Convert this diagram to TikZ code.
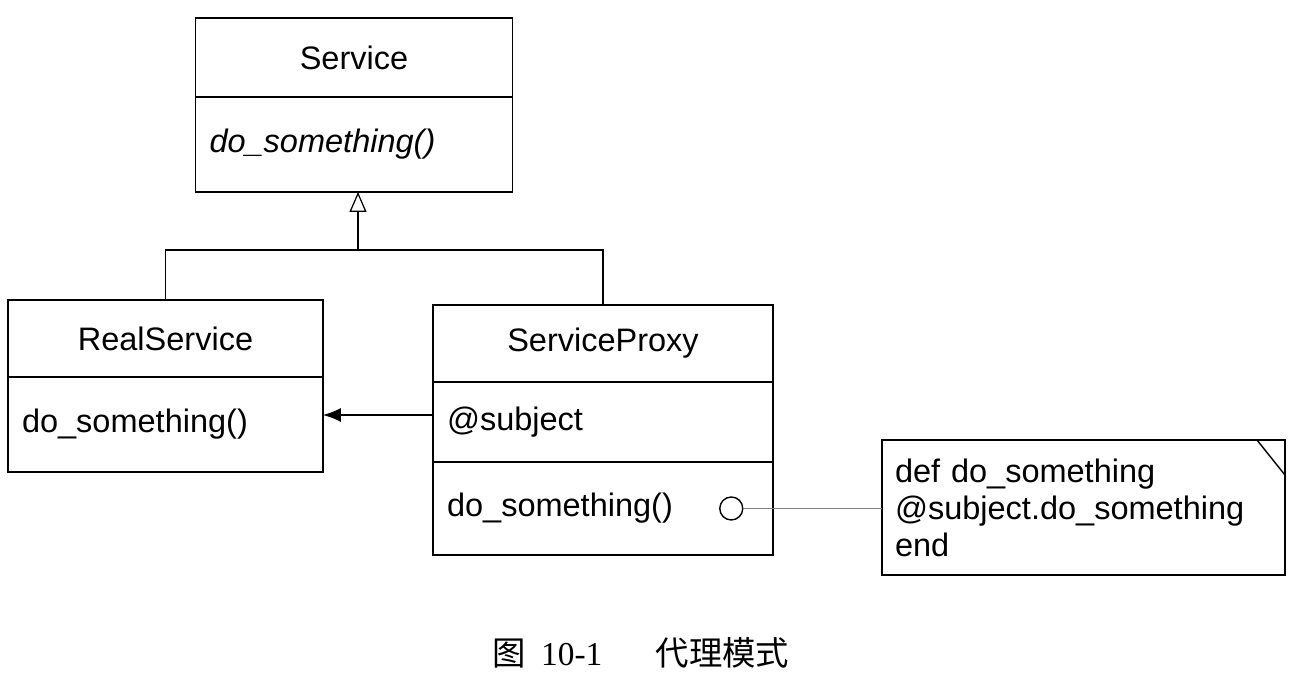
\documentclass[tikz,border=0pt]{standalone}
\usepackage{fontspec}
\setmainfont{Liberation Sans}
\newfontfamily\cjk{Noto Sans CJK SC}
\newfontfamily\numfont{Liberation Serif}
\usetikzlibrary{positioning,arrows.meta}
\tikzset{
  umlfont/.style={font=\fontsize{18.5}{21}\selectfont},
  classtitle/.style={draw,line width=1pt,outer sep=0pt,inner sep=0pt,umlfont},
  classpart/.style={draw,line width=1pt,outer sep=0pt,inner xsep=0.28cm,inner ysep=0pt,align=left,umlfont},
  notebox/.style={draw,line width=0.8pt,outer sep=0pt,inner xsep=0.26cm,minimum height=2.7cm,text width=7.54cm,align=left,umlfont},
  knob/.style={circle,draw,line width=0.8pt,inner sep=0pt,minimum size=0.46cm},
  link/.style={line width=0.7pt},
  generalize/.style={link,-{Triangle[open,length=0.4cm,width=0.34cm]}},
  assoc/.style={link,-{Latex[length=0.36cm,width=0.28cm]}},
  noteline/.style={line width=0.6pt,gray}
}
\begin{document}
\begin{tikzpicture}[x=0.02cm,y=-0.02cm]
\useasboundingbox (0,0) rectangle (1308,674);
% Service
\node[classtitle,minimum width=6.34cm,minimum height=1.58cm] (svc) at (354,57.5) {Service};
\node[classpart,text width=5.78cm,minimum height=1.9cm,below=0pt of svc] (svc-ops) {\textit{do\_something()}};
% RealService
\node[classtitle,minimum width=6.3cm,minimum height=1.54cm] (real) at (165.5,338.5) {RealService};
\node[classpart,text width=5.74cm,minimum height=1.9cm,below=0pt of real] (real-ops) {do\_something()};
% ServiceProxy
\node[classtitle,minimum width=6.8cm,minimum height=1.54cm] (proxy) at (603,343.5) {ServiceProxy};
\node[classpart,text width=6.24cm,minimum height=1.6cm,below=0pt of proxy] (proxy-attr) {@subject};
\node[classpart,text width=6.24cm,minimum height=1.86cm,below=0pt of proxy-attr] (proxy-ops) {do\_something()};
\node[knob,left=0.59cm of proxy-ops.east] (knob) {};
% note
\node[notebox] (note) at (1083.5,507.5) {def do\_something\\@subject.do\_something\\end};
\draw[line width=0.8pt] ([xshift=-0.56cm]note.north east) -- ([yshift=-0.7cm]note.north east);
% connectors
\coordinate (bus) at ([xshift=0.08cm,yshift=-1.16cm]svc-ops.south);
\draw[link] (real.north) |- (bus) -| (proxy.north);
\draw[generalize] (bus) -- (bus |- svc-ops.south);
\coordinate (ref) at ([yshift=0.14cm]proxy-attr.west);
\draw[assoc] (ref) -- (ref -| real-ops.east);
\draw[noteline] (knob) -- (knob -| note.west);
% caption
\node[font=\fontsize{19}{22}\selectfont] (caption) at (641,653) {{\cjk 图}\hspace{0.45em}{\numfont 10-1}\hspace{1.6em}{\cjk 代理模式}};
\end{tikzpicture}
\end{document}
